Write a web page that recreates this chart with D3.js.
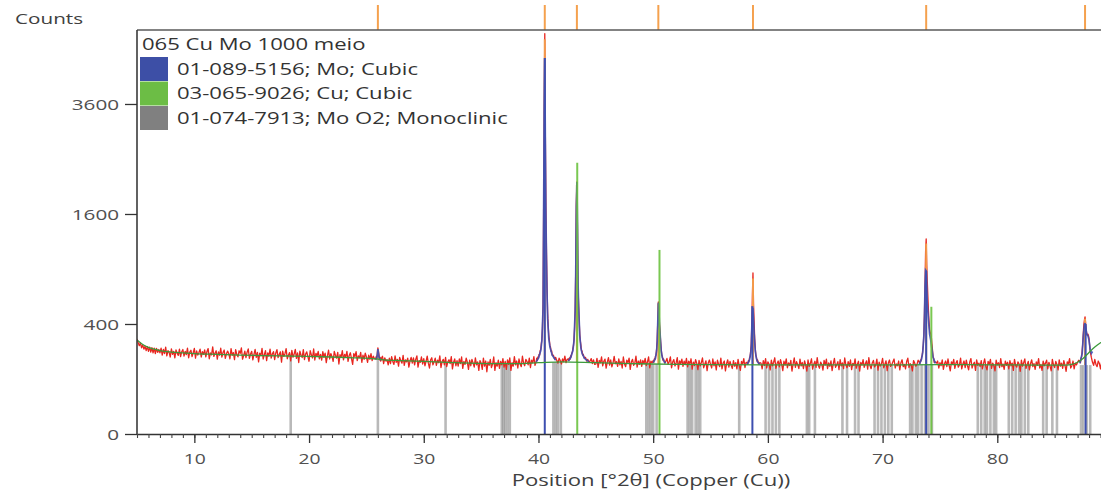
<!DOCTYPE html>
<html><head><meta charset="utf-8">
<script src="https://cdn.jsdelivr.net/npm/d3@7"></script>
<style>body{margin:0;background:#fff;} svg{display:block;} text{font-family:"Open Sans",sans-serif;}</style>
</head><body><svg id="c" width="1101" height="494"></svg>
<script>
// ---------------- DATA ----------------
const scanStart = 5, scanStep = 0.1;
const scanCounts = [
298,276,258,275,246,262,238,255,230,252,226,249,222,246,218,244,214,242,220,236,
218,244,206,236,214,250,202,230,220,196,240,210,226,192,234,216,204,238,198,224,
236,200,226,208,244,192,222,232,198,218,242,190,228,206,220,238,196,224,210,234,
197,225,241,187,217,207,251,199,215,229,185,223,205,243,195,219,233,189,213,227,
213,187,241,205,219,183,235,209,197,229,215,245,185,203,227,193,221,239,189,211,
226,182,210,236,194,220,172,216,202,242,186,208,230,178,218,200,238,190,212,224,
183,217,235,193,209,223,171,227,199,213,241,187,205,219,177,231,195,211,237,189,
217,169,227,205,193,235,183,211,223,197,175,229,207,191,239,181,215,201,225,187,
210,180,224,194,216,168,202,232,186,214,198,174,226,204,190,220,162,208,196,230,
182,210,196,226,174,204,218,188,160,214,198,224,178,202,192,220,170,206,184,216,
196,170,206,184,214,178,200,188,190,200,235,180,185,176,200,164,192,176,182,158,
190,164,198,174,160,202,170,184,152,194,178,166,204,156,182,172,190,148,176,194,
166,192,158,184,202,148,178,170,196,162,188,154,174,200,166,144,182,192,158,172,
190,156,180,168,202,146,174,184,158,194,150,172,182,164,198,140,170,186,154,178,
152,186,164,196,142,174,160,190,170,138,180,154,184,166,148,192,158,172,134,178,
166,138,190,152,176,128,172,156,184,146,162,196,134,168,152,180,142,174,158,188,
148,174,138,182,160,192,134,168,152,198,158,176,144,186,162,150,200,166,154,184,
174,158,190,146,180,168,198,156,177,181,200,230,300,600,3000,1200,500,300,240,210,
220,205,198,190,185,180,186,166,190,178,162,186,172,200,168,184,175,190,182,195,
230,300,600,2000,1200,500,300,240,210,195,185,178,183,170,186,176,188,164,182,160,
161,189,147,179,167,197,153,175,185,143,171,193,157,181,149,167,199,163,173,151,
186,158,174,144,196,162,150,180,168,190,138,172,184,156,166,200,148,176,160,182,
151,179,163,189,155,171,197,145,175,167,175,185,210,300,560,400,230,190,175,168,
171,159,189,161,173,197,145,171,183,153,167,193,139,177,163,185,151,175,159,189,
149,175,163,187,139,171,155,183,165,137,179,153,169,191,145,161,177,133,167,181,
160,144,186,154,172,136,180,162,150,190,140,166,176,132,164,182,148,174,156,142,
178,152,168,140,184,156,134,174,162,188,146,170,200,290,560,857,520,300,210,180,
168,160,172,155,166,140,178,156,188,144,172,162,136,180,154,170,192,142,164,176,
149,183,161,133,175,157,187,145,167,155,179,131,163,191,147,173,159,141,185,153,
169,141,177,157,131,181,151,165,187,139,161,175,147,193,155,143,171,161,135,179,
157,185,141,167,151,177,133,163,189,147,159,173,137,183,153,167,141,191,157,145,
173,151,181,137,165,155,187,143,161,175,131,169,157,183,147,163,177,139,193,155,
141,167,179,149,157,185,135,171,153,163,189,145,161,177,133,167,181,151,159,173,
186,144,162,154,176,136,168,182,150,160,140,174,190,146,164,156,132,178,166,152,
160,180,190,250,420,800,1257,900,560,420,260,200,175,165,158,170,155,166,176,144,
168,154,182,138,164,176,150,186,156,132,172,160,184,142,166,178,148,158,190,140,
162,176,146,180,154,136,172,188,144,160,170,134,182,156,166,150,178,140,164,186,
152,136,174,160,184,142,166,154,132,180,158,168,146,188,150,162,138,176,156,170,
140,178,154,166,134,184,156,148,172,162,130,180,152,168,186,142,160,174,136,164,
182,150,164,138,172,156,188,144,160,134,176,154,166,180,140,170,152,132,184,158,
146,174,160,136,182,152,166,142,178,156,130,172,162,188,144,154,176,140,166,158,
170,180,200,300,400,453,380,300,260,220,195,180,170,165,156,184,160,150,176,164,
140,172,156,182,150,164,176,146,160,154,168
];

// finer observed scan around the peaks [2θ, counts]
const obsPeak26 = [[25.8,186],[25.85,198],[25.9,192],[25.95,214],[26.0,245],[26.05,228],[26.1,205],[26.15,182],[26.2,194],[26.25,176],[26.3,188]];
const obsPeak40 = [[39.8,172],[39.85,190],[39.9,178],[39.95,196],[40.0,190],[40.05,210],[40.1,206],[40.15,230],[40.2,236],[40.25,268],[40.3,300],[40.35,370],[40.4,560],[40.45,1700],[40.5,3500],[40.55,5300],[40.6,3000],[40.65,1700],[40.7,1080],[40.75,700],[40.8,480],[40.85,380],[40.9,320],[40.95,290],[41.0,258],[41.05,250],[41.1,226],[41.15,228],[41.2,206],[41.3,205],[41.4,186],[41.5,194],[41.6,178]];
const obsPeak43 = [[42.6,186],[42.65,178],[42.7,192],[42.75,184],[42.8,202],[42.85,196],[42.9,216],[42.95,218],[43.0,242],[43.05,256],[43.1,300],[43.15,370],[43.2,520],[43.25,900],[43.3,1750],[43.35,2100],[43.4,1400],[43.45,700],[43.5,560],[43.55,420],[43.6,330],[43.65,285],[43.7,260],[43.75,230],[43.8,228],[43.85,206],[43.9,210],[44.0,190],[44.1,194],[44.2,176],[44.3,184],[44.4,170]];
const obsPeak50 = [[50.0,178],[50.05,170],[50.1,186],[50.15,182],[50.2,200],[50.25,206],[50.3,238],[50.35,290],[50.4,420],[50.45,576],[50.5,520],[50.55,400],[50.6,345],[50.65,280],[50.7,238],[50.75,206],[50.8,200],[50.85,180],[50.9,186],[51.0,166],[51.1,174]];
const obsPeak58 = [[58.2,168],[58.25,160],[58.3,178],[58.35,172],[58.4,192],[58.45,198],[58.5,228],[58.55,270],[58.6,400],[58.65,640],[58.7,857],[58.75,560],[58.8,420],[58.85,300],[58.9,244],[58.95,204],[59.0,196],[59.05,176],[59.1,182],[59.2,162],[59.3,168]];
const obsPeak73 = [[73.2,170],[73.25,164],[73.3,180],[73.35,176],[73.4,196],[73.45,202],[73.5,232],[73.55,262],[73.6,330],[73.65,480],[73.7,760],[73.75,1100],[73.8,1257],[73.85,950],[73.9,760],[73.95,620],[74.0,500],[74.05,420],[74.1,360],[74.15,340],[74.2,330],[74.25,310],[74.3,270],[74.35,234],[74.4,196],[74.45,190],[74.5,170],[74.6,172]];
const obsPeak87 = [[87.2,174],[87.25,168],[87.3,190],[87.35,196],[87.4,228],[87.45,270],[87.5,340],[87.55,400],[87.6,430],[87.65,453],[87.7,410],[87.75,360],[87.8,330],[87.85,320],[87.9,330],[87.95,320],[88.0,300],[88.05,260],[88.1,225],[88.2,194],[88.3,170]];

// calculated profile around the peaks [2θ, counts]
const calcPeak26 = [[25.8,184],[25.9,190],[25.95,205],[26.0,238],[26.05,215],[26.1,195],[26.2,184],[26.3,181]];
const calcPeak40 = [[39.8,172],[40.0,190],[40.2,230],[40.3,290],[40.4,520],[40.45,1650],[40.5,3400],[40.55,4675],[40.6,2800],[40.65,1600],[40.7,1000],[40.75,640],[40.8,440],[40.9,300],[41.0,250],[41.2,205],[41.5,180]];
const calcPeak43 = [[42.6,176],[42.8,192],[43.0,230],[43.1,290],[43.2,500],[43.25,860],[43.3,1700],[43.35,2100],[43.4,1450],[43.45,760],[43.5,540],[43.6,320],[43.7,245],[43.8,215],[44.0,190],[44.4,172]];
const calcPeak50 = [[50.0,168],[50.2,190],[50.3,228],[50.35,280],[50.4,410],[50.45,570],[50.5,510],[50.55,390],[50.6,335],[50.7,228],[50.8,192],[51.0,170],[51.1,166]];
const calcPeak58 = [[58.2,160],[58.4,182],[58.5,215],[58.55,255],[58.6,380],[58.65,525],[58.7,520],[58.75,430],[58.8,340],[58.9,228],[59.0,188],[59.1,172],[59.3,160]];
const calcPeak73 = [[73.2,160],[73.4,186],[73.5,220],[73.6,320],[73.65,460],[73.7,720],[73.75,889],[73.8,880],[73.85,700],[73.9,560],[74.0,430],[74.1,330],[74.2,290],[74.3,240],[74.4,195],[74.6,165]];
const calcPeak87 = [[87.2,165],[87.4,215],[87.5,320],[87.6,395],[87.65,407],[87.7,380],[87.8,330],[87.9,320],[88.0,290],[88.1,235],[88.2,215],[88.3,225]];

// fitted background
const bgTheta  = [5,5.5,6,6.5,7,8,9,10,12,14,16,18,20,22,24,25.5,26.5,28,30,32,34,36,38,40,42,45,48,52,55,60,65,70,75,80,85,86,86.5,87,87.5,88,88.5,89,90];
const bgCounts = [292,265,248,238,230,222,218,214,210,206,203,201,199,196,192,188,182,178,174,170,166,164,164,168,172,168,164,160,159,158,158,158,159,158,157,157,160,170,190,220,250,275,305];

// peak list (orange markers)
const peakPos    = [26.0, 40.55, 43.35, 50.45, 58.7, 73.8, 87.65];
const peakHeight = [245, 5300, 2100, 576, 857, 1257, 453];
const peakMarkTop = [235, 5150, 2050, 560, 800, 1200, 440];

// reference patterns
const moPos = [40.55, 58.65, 73.8, 87.7];
const moHeight = [4675, 540, 880, 400];
const cuPos = [43.38, 50.55, 74.25];
const cuHeight = [2430, 1120, 535];
const moo2Pos = [18.4, 26.0, 31.9, 36.8, 36.95, 37.1, 37.3, 37.5, 41.3, 41.5, 41.7, 41.95,
  49.4, 49.6, 49.8, 50.0, 50.3, 53.0, 53.2, 53.4, 53.7, 53.9, 54.1, 57.5, 59.8, 60.1, 60.4, 60.7, 61.0,
  63.4, 63.6, 64.1, 66.5, 66.9, 67.6, 67.9, 69.3, 69.6, 69.9, 70.2, 70.5, 70.8,
  72.4, 72.6, 72.9, 73.1, 73.4, 73.7, 74.0, 74.3, 78.3, 78.6, 78.9, 79.1, 79.4, 79.7, 79.9,
  81.0, 81.3, 81.6, 81.9, 82.1, 82.4, 82.7, 84.0, 84.3, 84.8, 85.2, 87.3, 87.5, 87.8, 88.1];

const yTicks = [0, 400, 1600, 3600];
const xTicks = [10, 20, 30, 40, 50, 60, 70, 80];
const legendTitle = "065 Cu Mo 1000 meio";
const legendLabels = ["01-089-5156; Mo; Cubic", "03-065-9026; Cu; Cubic", "01-074-7913; Mo O2; Monoclinic"];
const legendColors = ["#3d4fa6", "#6cbd45", "#808080"];

// ---------------- DRAW ----------------
const SX = 1.38; // horizontal text stretch of the original
const svg = d3.select("#c");
const x = d3.scaleLinear().domain([5, 90]).range([137, 1112]);
const y = d3.scaleSqrt().domain([0, 5395]).range([434, 30]);

svg.append("defs").append("clipPath").attr("id", "plot")
  .append("rect").attr("x", 137).attr("y", 30).attr("width", 975).attr("height", 404);
const plot = svg.append("g").attr("clip-path", "url(#plot)");

// MoO2 sticks, drawn from zero to the background level
const bgIdx = bgTheta.map((t, i) => i).filter(i => bgTheta[i] <= 86);
const bgStick = d3.scaleLinear().domain(bgIdx.map(i => bgTheta[i])).range(bgIdx.map(i => bgCounts[i])).clamp(true);
plot.selectAll(".moo2").data(moo2Pos).join("line")
  .attr("x1", d => x(d)).attr("x2", d => x(d))
  .attr("y1", y(0)).attr("y2", d => y(bgStick(d)))
  .attr("stroke", "#8a8a8a").attr("stroke-opacity", 0.6).attr("stroke-width", 2.6);

// observed scan
const obsPeaks = [obsPeak26, obsPeak40, obsPeak43, obsPeak50, obsPeak58, obsPeak73, obsPeak87];
const windows = obsPeaks.map(p => [p[0][0], p[p.length - 1][0]]);
let obs = scanCounts.map((c, i) => [Math.round((scanStart + i * scanStep) * 100) / 100, c])
  .filter(([t]) => !windows.some(([a, b]) => t >= a - 1e-6 && t <= b + 1e-6));
obsPeaks.forEach(p => { obs = obs.concat(p); });
obs.sort((a, b) => a[0] - b[0]);
const line = d3.line().x(d => x(d[0])).y(d => y(d[1]));
plot.append("path").datum(obs).attr("d", line)
  .attr("fill", "none").attr("stroke", "#e8261f").attr("stroke-width", 1.3).attr("stroke-linejoin", "round");

// peak list lines (over the observed scan, tip of the scan left visible)
plot.selectAll(".pk").data(peakPos).join("line")
  .attr("x1", d => x(d)).attr("x2", d => x(d))
  .attr("y1", d => y(bgStick(d))).attr("y2", (d, i) => y(peakMarkTop[i]))
  .attr("stroke", "#f39a4a").attr("stroke-width", 2);

// calculated profile
[calcPeak26, calcPeak40, calcPeak43, calcPeak50, calcPeak58, calcPeak73, calcPeak87].forEach(p => {
  plot.append("path").datum(p).attr("d", line)
    .attr("fill", "none").attr("stroke", "#3f4fb3").attr("stroke-width", 1.7).attr("stroke-opacity", 0.9);
});

// reference sticks
plot.selectAll(".mo").data(moPos).join("line")
  .attr("x1", d => x(d)).attr("x2", d => x(d)).attr("y1", y(0)).attr("y2", (d, i) => y(moHeight[i]))
  .attr("stroke", "#3d4fb0").attr("stroke-width", 2);
plot.selectAll(".cu").data(cuPos).join("line")
  .attr("x1", d => x(d)).attr("x2", d => x(d)).attr("y1", y(0)).attr("y2", (d, i) => y(cuHeight[i]))
  .attr("stroke", "#6cc23f").attr("stroke-width", 2).attr("stroke-opacity", 0.9);

// background
plot.append("path").datum(bgTheta.map((t, i) => [t, bgCounts[i]]))
  .attr("d", d3.line().x(d => x(d[0])).y(d => y(d[1])).curve(d3.curveMonotoneX))
  .attr("fill", "none").attr("stroke", "#3b9a3b").attr("stroke-width", 1.3);

// top peak markers
svg.selectAll(".pkTop").data(peakPos).join("line")
  .attr("x1", d => x(d)).attr("x2", d => x(d)).attr("y1", 5).attr("y2", 30)
  .attr("stroke", "#f5a14e").attr("stroke-width", 2);

// frame
svg.append("line").attr("x1", 137).attr("x2", 1101).attr("y1", 30).attr("y2", 30).attr("stroke", "#5a5a5a").attr("stroke-width", 1.6);
svg.append("line").attr("x1", 137).attr("x2", 137).attr("y1", 30).attr("y2", 435).attr("stroke", "#3a3a3a").attr("stroke-width", 1.6);

// y axis
const ya = svg.append("g").attr("transform", "translate(137,0)")
  .call(d3.axisLeft(y).tickValues(yTicks).tickSize(12).tickSizeOuter(0).tickFormat(d3.format("d")));
ya.select(".domain").remove();
ya.selectAll(".tick line").attr("stroke", "#333").attr("stroke-width", 1.3);
ya.selectAll(".tick text").attr("x", -13).attr("dy", "0.36em").attr("transform", `scale(${SX},1)`)
  .attr("fill", "#505050").style("font-size", "15px").style("font-family", "'Open Sans',sans-serif");

// x axis (minor + major)
const xMinor = d3.range(5, 91, 1);
const xm = svg.append("g").attr("transform", "translate(0,434)")
  .call(d3.axisBottom(x).tickValues(xMinor).tickSize(4).tickSizeOuter(0).tickFormat(""));
xm.select(".domain").attr("stroke", "#333").attr("stroke-width", 1.6);
xm.selectAll(".tick line").attr("stroke", "#444").attr("stroke-width", 1.1);
const xa = svg.append("g").attr("transform", "translate(0,434)")
  .call(d3.axisBottom(x).tickValues(xTicks).tickSize(9).tickSizeOuter(0).tickFormat(d3.format("d")));
xa.select(".domain").remove();
xa.selectAll(".tick line").attr("stroke", "#333").attr("stroke-width", 1.3);
xa.selectAll(".tick text").attr("y", 30).attr("dy", "0").attr("transform", `scale(${SX},1)`)
  .attr("fill", "#505050").style("font-size", "14px").style("font-family", "'Open Sans',sans-serif");

// titles
svg.append("text").attr("transform", `translate(15,24) scale(${SX},1)`)
  .attr("fill", "#404040").style("font-size", "15px").text("Counts");
svg.append("text").attr("transform", `translate(651,486) scale(${SX},1)`).attr("text-anchor", "middle")
  .attr("fill", "#404040").style("font-size", "16px").text("Position [°2θ] (Copper (Cu))");

// legend
svg.append("text").attr("transform", `translate(142,49.5) scale(${SX},1)`)
  .attr("fill", "#333").style("font-size", "16px").text(legendTitle);
const lg = svg.selectAll(".lg").data(legendLabels).join("g")
  .attr("transform", (d, i) => `translate(140,${57 + i * 24.5})`);
lg.append("rect").attr("width", 28).attr("height", 24).attr("fill", (d, i) => legendColors[i]);
lg.append("text").attr("transform", `translate(37,17.5) scale(${SX},1)`)
  .attr("fill", "#333").style("font-size", "16px").text(d => d);
</script></body></html>
